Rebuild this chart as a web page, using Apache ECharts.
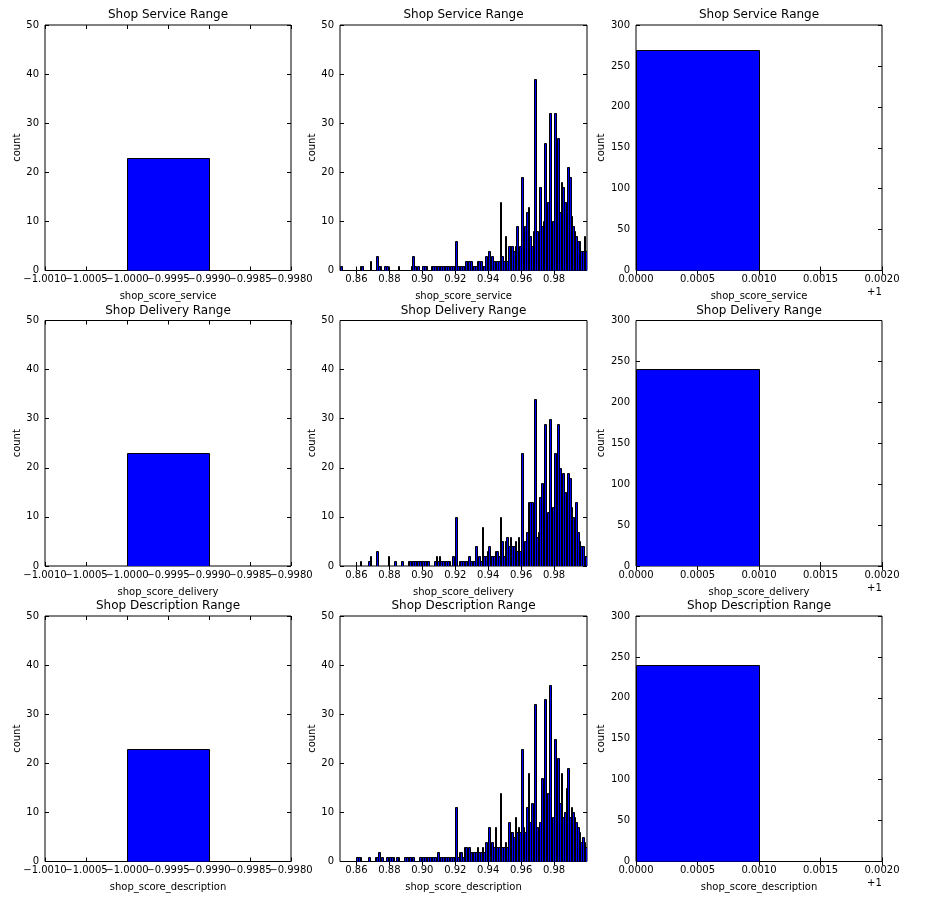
<!DOCTYPE html>
<html>
<head>
<meta charset="utf-8">
<script src="https://cdn.jsdelivr.net/npm/echarts@6.0.0/dist/echarts.min.js"></script>
<style>
  html, body { margin: 0; padding: 0; background: #fff; }
  #main { width: 949px; height: 901px; }
</style>
</head>
<body>
<div id="main"></div>
<script>
// histogram data
var titles = ['Shop Service Range', 'Shop Delivery Range', 'Shop Description Range'];
var xNames = ['shop_score_service', 'shop_score_delivery', 'shop_score_description'];

// left column: single bin at -1
var leftBin = [-1.0, -0.999];
var leftCounts = [23, 23, 23];
var leftTicks = [-1.001, -1.0005, -1.0, -0.9995, -0.999, -0.9985, -0.998];

// right column: single bin at 1 (axis shown with +1 offset)
var rightBin = [1.0, 1.001];
var rightCounts = [269, 241, 240];
var rightTicks = [1.0, 1.0005, 1.001, 1.0015, 1.002];

// middle column: 150 bins of 0.001 from 0.85
var binStart = 0.85;
var binWidth = 0.001;
var midTicks = [0.86, 0.88, 0.90, 0.92, 0.94, 0.96, 0.98];

var serviceCounts = [
  1,0,0,0,0,0,0,0,0,0,
  0,0,1,1,0,0,0,0,2,0,
  0,0,3,1,1,0,0,1,1,0,
  0,0,0,0,0,1,0,0,0,0,
  0,0,0,1,3,1,0,1,0,0,
  1,1,1,0,0,1,1,1,1,1,
  1,1,1,1,1,1,1,1,1,1,
  6,1,1,1,1,1,2,2,2,2,
  1,1,1,2,2,2,1,1,3,2,
  4,2,3,2,2,2,2,14,3,2,
  7,2,5,5,5,4,5,9,3,5,
  19,6,9,12,13,7,5,8,39,8,
  6,17,9,10,26,13,14,32,7,10,
  32,8,27,12,18,17,14,11,21,19,
  11,9,8,7,6,6,4,4,7,4
];
var deliveryCounts = [
  0,0,0,0,0,0,0,0,0,0,
  0,0,1,0,0,0,0,1,2,0,
  0,0,3,0,0,0,0,0,0,2,
  0,0,0,1,0,0,0,1,0,0,
  0,1,1,1,1,1,1,1,1,1,
  1,1,1,1,0,0,0,1,2,1,
  2,1,1,1,1,1,1,0,2,1,
  10,0,1,1,1,1,1,1,2,1,
  1,1,4,1,2,1,8,2,2,3,
  4,2,2,2,3,3,2,10,5,2,
  5,6,4,6,4,4,5,3,6,3,
  23,4,5,7,13,13,13,9,34,6,
  7,14,17,14,29,9,11,30,11,12,
  23,9,29,20,12,19,15,11,19,18,
  12,10,9,13,7,5,4,4,2,2
];
var descriptionCounts = [
  0,0,0,0,0,0,0,0,0,0,
  1,1,1,0,0,0,0,1,0,0,
  0,1,1,2,0,1,0,0,1,1,
  1,1,1,0,1,1,0,0,0,1,
  1,1,1,1,1,0,0,0,1,1,
  1,1,1,1,1,1,1,1,1,2,
  1,1,1,1,1,1,1,1,1,1,
  11,1,2,2,1,3,3,1,3,2,
  2,2,2,3,2,2,3,2,4,2,
  7,3,4,3,7,3,3,14,3,3,
  4,3,8,6,6,5,9,6,7,6,
  23,7,6,11,18,8,12,9,32,7,
  6,8,17,10,33,7,14,36,8,9,
  25,10,21,12,18,9,10,15,19,9,
  11,10,9,8,7,6,4,5,4,3
];
var midCounts = [serviceCounts, deliveryCounts, descriptionCounts];

var chart = echarts.init(document.getElementById('main'));

var FONT = 'DejaVu Sans';
var cols = [{left: 45, width: 246}, {left: 340, width: 247}, {left: 636, width: 246}];
var rowTops = [25, 320.5, 616];
var rowH = 245.5;

// bars snapped to the pixel grid, like matplotlib's Agg output
function renderBin(params, api) {
  var p0 = api.coord([api.value(0), api.value(2)]);
  var p1 = api.coord([api.value(1), 0]);
  var x0 = Math.round(p0[0]), x1 = Math.round(p1[0]);
  var y0 = Math.round(p0[1]), y1 = Math.round(p1[1]);
  return {
    type: 'rect',
    shape: {x: x0 + 0.5, y: y0 + 0.5, width: Math.max(x1 - x0, 1), height: y1 - y0},
    style: {fill: '#0000ff', stroke: '#000', lineWidth: 1}
  };
}

function fmtMinus(v) {
  var s = Math.abs(v).toFixed(4);
  return v < -1e-12 ? '\u2212' + s : s;
}

var tickStyle = {show: true, inside: true, length: 4, lineStyle: {color: '#000', width: 1}};
var labelStyle = {color: '#000', fontSize: 10, fontFamily: FONT};
var nameStyle = {color: '#000', fontSize: 10, fontFamily: FONT};

var grids = [], xAxes = [], yAxes = [], series = [], graphics = [];

function labelAxis(g, xmin, xmax, ticks, fmt, name) {
  xAxes.push({
    type: 'value', gridIndex: g, position: 'bottom', min: xmin, max: xmax,
    axisLine: {show: false}, splitLine: {show: false},
    axisTick: Object.assign({customValues: ticks}, tickStyle),
    axisLabel: Object.assign({
      customValues: ticks, formatter: fmt, margin: 4,
      hideOverlap: false, showMinLabel: true, showMaxLabel: true
    }, labelStyle),
    name: name, nameLocation: 'middle', nameGap: 21, nameTextStyle: nameStyle
  });
  return xAxes.length - 1;
}

for (var r = 0; r < 3; r++) {
  for (var c = 0; c < 3; c++) {
    var g = r * 3 + c;
    grids.push({
      left: cols[c].left, top: rowTops[r], width: cols[c].width, height: rowH,
      show: true, borderColor: '#000', borderWidth: 1, backgroundColor: '#fff'
    });

    var xmin, xmax, ticks, fmt, ymax, yint, data, yGap;
    if (c === 0) {
      xmin = -1.001; xmax = -0.998; ticks = leftTicks; fmt = fmtMinus;
      ymax = 50; yint = 10; yGap = 23;
      data = [[leftBin[0], leftBin[1], leftCounts[r]]];
    } else if (c === 1) {
      xmin = 0.85; xmax = 1.0; ticks = midTicks;
      fmt = function (v) { return v.toFixed(2); };
      ymax = 50; yint = 10; yGap = 23;
      data = [];
      midCounts[r].forEach(function (n, k) {
        if (n > 0) data.push([binStart + k * binWidth, binStart + (k + 1) * binWidth, n]);
      });
    } else {
      xmin = 1.0; xmax = 1.002; ticks = rightTicks;
      fmt = function (v) { return (v - 1).toFixed(4); };
      ymax = 300; yint = 50; yGap = 30;
      data = [[rightBin[0], rightBin[1], rightCounts[r]]];
    }

    var xi;
    if (c === 0) {
      // the left labels touch each other; split them over two stacked axes so none gets dropped
      xi = labelAxis(g, xmin, xmax, ticks.filter(function (t, i) { return i % 2 === 0; }), fmt, xNames[r]);
      labelAxis(g, xmin, xmax, ticks.filter(function (t, i) { return i % 2 === 1; }), fmt, '');
    } else {
      xi = labelAxis(g, xmin, xmax, ticks, fmt, xNames[r]);
    }
    xAxes.push({
      type: 'value', gridIndex: g, position: 'top', min: xmin, max: xmax,
      axisLine: {show: false}, splitLine: {show: false},
      axisTick: Object.assign({customValues: ticks}, tickStyle),
      axisLabel: {show: false}
    });
    yAxes.push({
      type: 'value', gridIndex: g, position: 'left', min: 0, max: ymax, interval: yint,
      axisLine: {show: false}, splitLine: {show: false},
      axisTick: tickStyle,
      axisLabel: Object.assign({margin: 6}, labelStyle),
      name: 'count', nameLocation: 'middle', nameGap: yGap, nameTextStyle: nameStyle
    });
    var yi = yAxes.length - 1;
    yAxes.push({
      type: 'value', gridIndex: g, position: 'right', min: 0, max: ymax, interval: yint,
      axisLine: {show: false}, splitLine: {show: false},
      axisTick: tickStyle,
      axisLabel: {show: false}
    });

    series.push({
      type: 'custom', xAxisIndex: xi, yAxisIndex: yi, clip: true,
      renderItem: renderBin, encode: {x: [0, 1], y: 2}, data: data,
      silent: true, animation: false
    });

    graphics.push({
      type: 'text', x: cols[c].left + cols[c].width / 2, y: rowTops[r] - 16,
      style: {text: titles[r], font: '12px "' + FONT + '"', fill: '#000', align: 'center', textAlign: 'center'}
    });
    if (c === 2) {
      graphics.push({
        type: 'text', x: cols[c].left + cols[c].width - 15, y: rowTops[r] + rowH + 17,
        style: {text: '+1', font: '10px "' + FONT + '"', fill: '#000'}
      });
    }
  }
}

chart.setOption({
  backgroundColor: '#fff',
  animation: false,
  grid: grids,
  xAxis: xAxes,
  yAxis: yAxes,
  series: series,
  graphic: graphics
});
</script>
</body>
</html>
